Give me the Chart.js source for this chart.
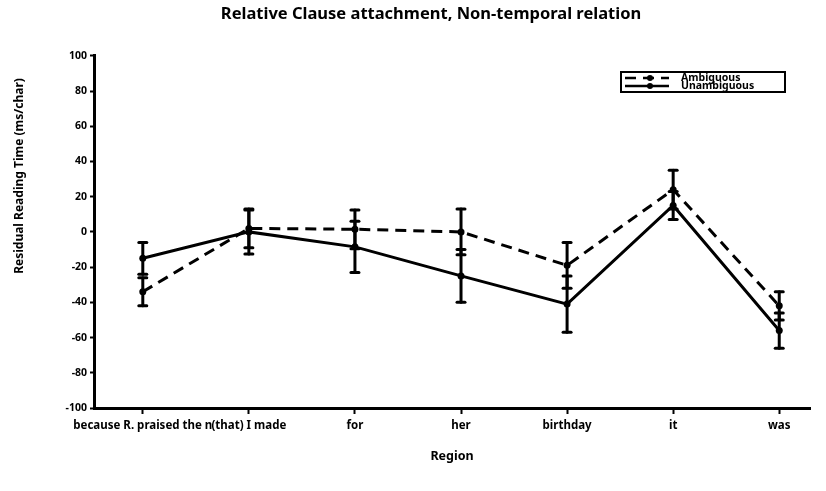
<!DOCTYPE html>
<html>
<head>
<meta charset="utf-8">
<script src="https://cdn.jsdelivr.net/npm/chart.js@4.4.1/dist/chart.umd.min.js"></script>
<style>
  html, body { margin: 0; padding: 0; background: #fff; }
</style>
</head>
<body>
<canvas id="chart" width="826" height="491"></canvas>
<script>
const regions = ['because R. praised the n', '(that) I made', 'for', 'her', 'birthday', 'it', 'was'];
const ambiguous = [-34, 2, 1.5, 0, -19, 24, -42];
const ambiguousErr = [8, 11, 11, 13, 13, 11, 8];
const unambiguous = [-15, 0, -8.5, -25, -41, 15, -56];
const unambiguousErr = [9, 12.5, 14.5, 15, 16, 8, 10];
const yMin = -100, yMax = 100, yStep = 20;
const yTitle = 'Residual Reading Time (ms/char)';

const FONT = '"Noto Sans", "DejaVu Sans", sans-serif';
Chart.defaults.font.family = FONT;
Chart.defaults.color = '#000';

const toPoints = vals => vals.map((v, i) => ({ x: i, y: v }));

// vertical error bars with caps, drawn from each dataset's own err array
const errorBars = {
  id: 'errorBars',
  afterDatasetsDraw(chart) {
    const ctx = chart.ctx;
    const yScale = chart.scales.y;
    ctx.save();
    ctx.strokeStyle = '#000';
    ctx.lineCap = 'round';
    chart.data.datasets.forEach((ds, di) => {
      const meta = chart.getDatasetMeta(di);
      meta.data.forEach((pt, i) => {
        const v = ds.data[i].y, e = ds.err[i];
        const top = yScale.getPixelForValue(v + e);
        const bot = yScale.getPixelForValue(v - e);
        ctx.lineWidth = 3;
        ctx.beginPath();
        ctx.moveTo(pt.x, top);
        ctx.lineTo(pt.x, bot);
        ctx.stroke();
        [top, bot].forEach(y => {
          ctx.beginPath();
          ctx.moveTo(pt.x - 4, y);
          ctx.lineTo(pt.x + 4, y);
          ctx.stroke();
        });
      });
    });
    ctx.restore();
  }
};

// boxed legend in the upper right of the plot, plus the rotated y title
const boxLegend = {
  id: 'boxLegend',
  afterDraw(chart) {
    const ctx = chart.ctx;
    const x0 = 621, y0 = 72, w = 164, h = 20;
    ctx.save();
    ctx.fillStyle = '#fff';
    ctx.fillRect(x0, y0, w, h);
    ctx.strokeStyle = '#000';
    ctx.lineWidth = 2;
    ctx.strokeRect(x0, y0, w, h);
    ctx.font = 'bold 10.5px ' + FONT;
    ctx.textBaseline = 'middle';
    chart.data.datasets.forEach((ds, i) => {
      const y = y0 + 6 + i * 8;
      ctx.strokeStyle = '#000';
      ctx.lineWidth = 2.5;
      ctx.setLineDash(ds.borderDash || []);
      ctx.beginPath();
      ctx.moveTo(x0 + 4, y);
      ctx.lineTo(x0 + 48, y);
      ctx.stroke();
      ctx.setLineDash([]);
      ctx.fillStyle = '#000';
      ctx.beginPath();
      ctx.arc(x0 + 29, y, 3, 0, Math.PI * 2);
      ctx.fill();
      ctx.fillText(ds.label, x0 + 60, y);
    });

    ctx.translate(20, 176);
    ctx.rotate(-Math.PI / 2);
    ctx.textAlign = 'center';
    ctx.font = 'bold 12px ' + FONT;
    ctx.fillText(yTitle, 0, 0);
    ctx.restore();
  }
};

new Chart(document.getElementById('chart'), {
  type: 'line',
  data: {
    datasets: [
      {
        label: 'Ambiguous',
        data: toPoints(ambiguous),
        err: ambiguousErr,
        borderColor: '#000',
        backgroundColor: '#000',
        borderWidth: 3,
        borderDash: [11, 7],
        pointRadius: 3.5,
        pointBackgroundColor: '#000',
        pointBorderWidth: 0,
        tension: 0
      },
      {
        label: 'Unambiguous',
        data: toPoints(unambiguous),
        err: unambiguousErr,
        borderColor: '#000',
        backgroundColor: '#000',
        borderWidth: 3,
        pointRadius: 3.5,
        pointBackgroundColor: '#000',
        pointBorderWidth: 0,
        tension: 0
      }
    ]
  },
  options: {
    responsive: false,
    animation: false,
    layout: { padding: { left: 52, right: 16, top: 0, bottom: 14 } },
    plugins: {
      legend: { display: false },
      tooltip: { enabled: false },
      title: {
        display: true,
        text: 'Relative Clause attachment, Non-temporal relation',
        font: { size: 16.5, weight: 'bold' },
        color: '#000',
        padding: { top: 4, bottom: 32 }
      }
    },
    scales: {
      x: {
        type: 'linear',
        min: -0.46,
        max: 6.29,
        afterBuildTicks: s => { s.ticks = regions.map((_, i) => ({ value: i })); },
        afterFit: s => { s.height = 69; },
        grid: { drawOnChartArea: false, drawTicks: true, tickLength: 6, tickWidth: 2, tickColor: '#000' },
        border: { display: true, color: '#000', width: 3 },
        ticks: {
          autoSkip: false,
          maxRotation: 0,
          padding: 5,
          font: { size: 11.5, weight: 'bold' },
          callback: v => regions[v]
        },
        title: {
          display: true,
          text: 'Region',
          font: { size: 12.5, weight: 'bold' },
          padding: { top: 0, bottom: 13 }
        }
      },
      y: {
        min: yMin,
        max: yMax,
        afterFit: s => { s.width = 42; },
        grid: { drawOnChartArea: false, drawTicks: true, tickLength: 4, tickWidth: 2, tickColor: '#000' },
        border: { display: true, color: '#000', width: 3 },
        ticks: {
          stepSize: yStep,
          padding: 3,
          font: { size: 10.5, weight: 'bold' }
        }
      }
    }
  },
  plugins: [errorBars, boxLegend]
});
</script>
</body>
</html>
